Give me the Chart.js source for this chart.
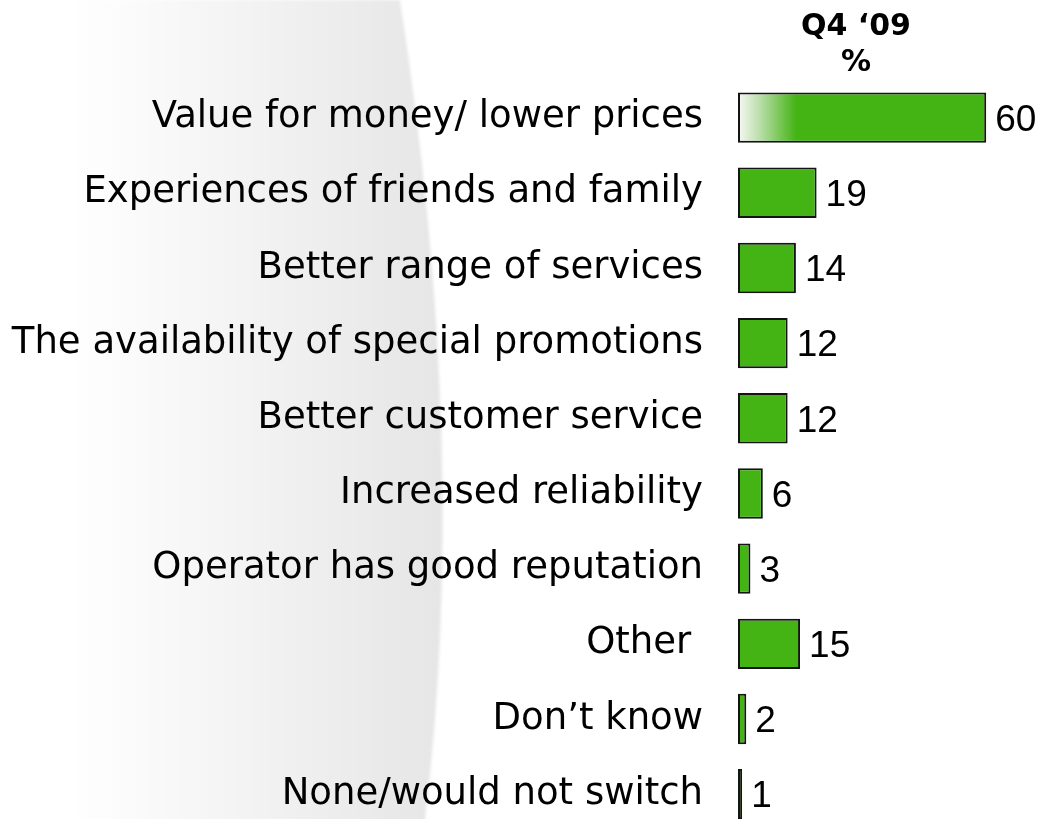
<!DOCTYPE html>
<html>
<head>
<meta charset="utf-8">
<script src="https://cdn.jsdelivr.net/npm/chart.js@4"></script>
<style>
    html, body { margin: 0; padding: 0; background: #ffffff; overflow: hidden; }
    canvas { display: block; }
</style>
</head>
<body>
<canvas id="chart" width="1042" height="889"></canvas>
<script>
// Reasons for switching - Q4 '09
const categories = [
    'Value for money/ lower prices',
    'Experiences of friends and family',
    'Better range of services',
    'The availability of special promotions',
    'Better customer service',
    'Increased reliability',
    'Operator has good reputation',
    'Other ',
    'Don\u2019t know',
    'None/would not switch'
];
const values = [60, 19, 14, 12, 12, 6, 3, 15, 2, 1];
const headerLines = ['Q4 \u201809', '%'];

const colors = {
    bar: '#44b414',
    barBorder: '#141414',
    text: '#000000',
    shade: '#e6e6e6'
};

// grey swoosh behind the labels
const backgroundPlugin = {
    id: 'swoosh',
    beforeDraw(chart) {
        const ctx = chart.ctx;
        const h = 819;
        ctx.save();
        const grad = ctx.createLinearGradient(65, 0, 435, 0);
        grad.addColorStop(0, '#ffffff');
        grad.addColorStop(1, colors.shade);
        ctx.fillStyle = grad;
        ctx.beginPath();
        ctx.moveTo(0, 0);
        ctx.lineTo(400, 0);
        ctx.quadraticCurveTo(470, h * 0.55, 425, h);
        ctx.lineTo(422, h + 70);
        ctx.lineTo(0, h + 70);
        ctx.closePath();
        ctx.filter = 'blur(1.5px)';
        ctx.fill();
        ctx.restore();
    }
};

// header above the bars and value labels next to them
const labelPlugin = {
    id: 'valueLabels',
    afterDatasetsDraw(chart) {
        const ctx = chart.ctx;
        const meta = chart.getDatasetMeta(0);
        ctx.save();
        ctx.fillStyle = colors.text;
        ctx.textAlign = 'left';
        ctx.textBaseline = 'middle';
        ctx.font = '37px "Liberation Sans", Arial, sans-serif';
        meta.data.forEach((bar, i) => {
            ctx.fillText(String(values[i]), bar.x + 9, bar.y + 3);
        });

        const cx = chart.chartArea.left + 118;
        ctx.textAlign = 'center';
        ctx.font = 'bold 30px "DejaVu Sans", Verdana, sans-serif';
        ctx.fillText(headerLines[0], cx, 27);
        ctx.fillText(headerLines[1], cx, 63);
        ctx.restore();
    }
};

const ctx = document.getElementById('chart');
new Chart(ctx, {
    type: 'bar',
    data: {
        labels: categories,
        datasets: [{
            data: values,
            backgroundColor: function(context) {
                const chart = context.chart;
                if (context.dataIndex === 0 && chart.chartArea) {
                    const left = chart.chartArea.left;
                    const g = chart.ctx.createLinearGradient(left, 0, left + 58, 0);
                    g.addColorStop(0, '#f6f8f4');
                    g.addColorStop(0.35, '#bfe0b0');
                    g.addColorStop(1, colors.bar);
                    return g;
                }
                return colors.bar;
            },
            borderColor: colors.barBorder,
            borderWidth: 2,
            borderSkipped: false,
            barPercentage: 0.67,
            categoryPercentage: 1
        }]
    },
    options: {
        indexAxis: 'y',
        responsive: false,
        animation: false,
        layout: {
            padding: { top: 80, bottom: 0, left: 0, right: 2 }
        },
        plugins: {
            legend: { display: false },
            tooltip: { enabled: false }
        },
        scales: {
            x: {
                display: false,
                min: 0,
                max: 73
            },
            y: {
                afterFit: function(scale) {
                    scale.width = 738;
                },
                grid: { display: false, drawTicks: false },
                border: { display: false },
                ticks: {
                    padding: 35,
                    color: colors.text,
                    font: {
                        family: '"DejaVu Sans", Verdana, sans-serif',
                        size: 37
                    }
                }
            }
        }
    },
    plugins: [backgroundPlugin, labelPlugin]
});
</script>
</body>
</html>
